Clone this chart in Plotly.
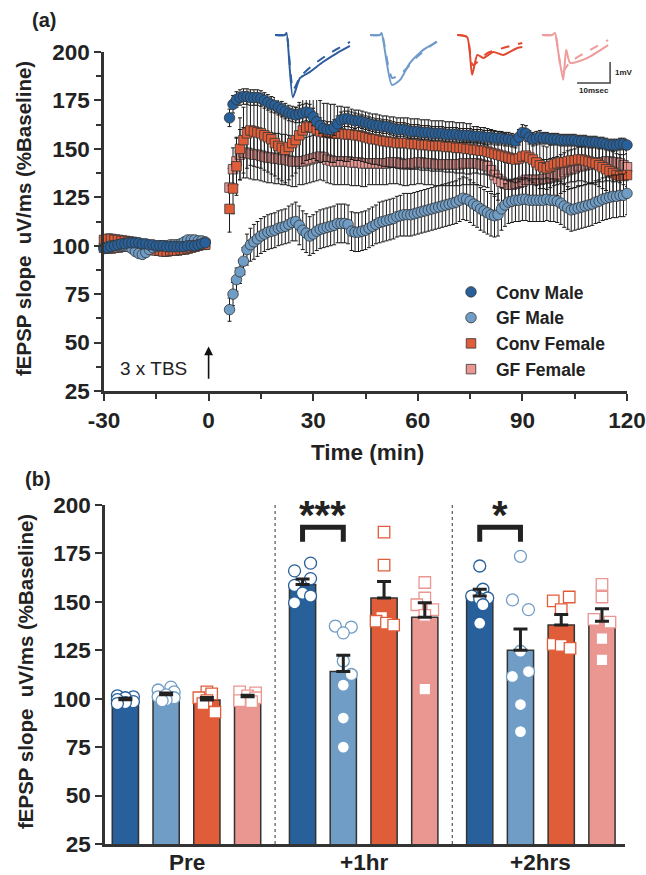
import plotly.graph_objects as go

# ---------------- DATA : panel (a) time course ----------------
baseline_times = list(range(-30, 0))
post_times = list(range(6, 121))
time_ticks = [-30, 0, 30, 60, 90, 120]
time_tick_labels = ["-30", "0", "30", "60", "90", "120"]

conv_male_base = [98.5, 99, 99.5, 100, 100.5, 101, 101, 101.5, 101.5, 101.5,
                  101.5, 101, 101, 100.5, 100.5, 100, 100, 100, 99.5, 99.5,
                  99.5, 99.5, 99.5, 99.5, 100, 100, 100, 100.5, 101, 101.5]
conv_male_post = [166, 173, 175.5, 176.5, 177, 177, 176.5, 176.5, 176.5, 176,
                  175, 174, 173, 172.5, 171.5, 170.5, 169.5, 168.5, 168, 167.5,
                  168, 168.5, 169, 168.5, 166.5, 164, 162, 160.5, 160, 160,
                  161, 163, 165, 165.5, 165.5, 165, 164.5, 164.5, 164, 163.5,
                  163, 162.5, 162, 162, 161.5, 161.5, 161, 160.5, 160, 160,
                  160, 159.5, 159, 159, 159, 158.5, 158.5, 158.5, 158, 158,
                  158, 158, 157.5, 157.5, 157.5, 157.5, 157, 157, 157, 157,
                  156.5, 156.5, 156.5, 156, 156, 156, 155.5, 155.5, 155.5, 155,
                  155, 154.5, 154, 156, 158.5, 158, 156, 155, 155.5, 156,
                  155.5, 155.5, 155, 155, 155, 154.5, 154.5, 154.5, 154.5, 154.5,
                  154, 154, 154, 153.5, 153.5, 153.5, 153, 153, 152.5, 152,
                  152, 152, 152.5, 152.5, 152]
conv_male_base_sem = [1.5, 1.5, 1.5, 1.5, 1.5, 1.5, 1.5, 1.5, 1.5, 1.5,
                      1.5, 1.5, 1.5, 1.5, 1.5, 1.5, 1.5, 1.5, 1.5, 1.5,
                      1.5, 1.5, 1.5, 1.5, 1.5, 1.5, 1.5, 1.5, 1.5, 1.5]
conv_male_post_sem = [4.5, 4.5, 4, 4, 4, 4, 4, 4, 4, 4,
                      4, 4, 4, 4, 4, 4, 4, 4, 4, 4,
                      4.5, 4.5, 4.5, 4.5, 4.5, 4, 4, 4, 4, 4,
                      4, 4, 4, 4, 4, 4, 4, 3.5, 3.5, 3.5,
                      3.5, 3.5, 3.5, 3.5, 3.5, 3.5, 3.5, 3.5, 3.5, 3.5,
                      3.5, 3.5, 3.5, 3.5, 3.5, 3.5, 3.5, 3.5, 3.5, 3.5,
                      3.5, 3.5, 3.5, 3.5, 3.5, 3.5, 3.5, 3.5, 3.5, 3.5,
                      3.5, 3.5, 3.5, 3.5, 3.5, 3.5, 3.5, 3.5, 3.5, 3.5,
                      3.5, 3.5, 3.5, 4, 4, 4, 3.5, 3.5, 3.5, 3.5,
                      3, 3, 3, 3, 3, 3, 3, 3, 3, 3,
                      3, 3, 3, 3, 3, 3, 3, 3, 3, 3,
                      3, 3, 3, 3, 3]

gf_male_base = [99, 99.5, 100, 100, 100.5, 100, 100, 99.5, 98.5, 97,
                96, 95.5, 96.5, 98, 99, 99.5, 100, 100, 100, 100.5,
                100.5, 100.5, 101, 102, 103, 103, 103, 102.5, 102.5, 102]
gf_male_post = [67, 75, 82.5, 86.5, 92, 98, 100.5, 102, 103.5, 105,
                106, 107, 107.5, 108, 109, 109.5, 110, 111, 112, 112.5,
                110.5, 108, 106.5, 105, 106, 107.5, 108.5, 109, 109.5, 110,
                110.5, 111.5, 111.5, 111.5, 111, 107.5, 107, 107, 107.5, 108,
                109, 110, 111, 112, 112.5, 113, 113.5, 114, 115, 115.5,
                116, 116, 116, 116.5, 117, 117.5, 118, 118.5, 119, 119.5,
                120, 120.5, 121, 121.5, 122, 122.5, 123.5, 124.5, 124, 123,
                121.5, 120.5, 119, 118, 117, 116, 115.5, 116, 119, 121,
                122.5, 123, 123.5, 123.5, 124, 124, 123.5, 123.5, 123.5, 123.5,
                123.5, 124, 123.5, 123.5, 123, 122, 120.5, 119.5, 118.5, 119,
                119.5, 120, 120.5, 121, 121.5, 122.5, 123, 124, 124.5, 125,
                125.5, 125.5, 126, 126, 127]
gf_male_base_sem = [2, 2, 2, 2, 2, 2, 2, 2, 2, 2,
                    2, 2, 2, 2, 2, 2, 2, 2, 2, 2,
                    2, 2, 2, 2, 2, 2, 2, 2, 2, 2]
gf_male_post_sem = [6, 6, 6, 6, 7, 8, 8.5, 9, 9, 9,
                    9, 9, 9, 9, 9, 9, 9, 9.5, 9.5, 10,
                    10, 10, 10, 10, 10, 10, 10, 10, 10, 10,
                    10, 10, 10, 10, 10, 10, 10, 10, 10, 10,
                    10, 10, 10, 10.5, 10.5, 10.5, 10.5, 10.5, 10.5, 10.5,
                    11, 11, 11, 11, 11, 11, 11, 11, 11, 11,
                    11, 11, 11, 11, 11, 11, 11, 11, 11, 11,
                    11, 11, 11, 11, 11, 11, 11, 11, 11, 11,
                    11, 11, 11, 11, 11, 11, 11, 11, 11, 11,
                    11, 11, 11, 11, 11, 11, 11, 11, 11, 11,
                    11, 11, 11, 11, 11, 11, 11, 11, 11, 11,
                    11, 11, 11, 11, 11]

conv_female_base = [103, 103.5, 103.5, 103, 103, 102.5, 102.5, 102, 102, 101.5,
                    100.5, 100, 99, 98.5, 98, 97.5, 97.5, 97, 97, 97.5,
                    97.5, 97.5, 98, 98, 98.5, 99, 99.5, 100, 100.5, 100.5]
conv_female_post = [119, 129.5, 141, 150, 154.5, 158, 159.5, 159, 158.5, 158,
                    157, 156, 155, 153, 151.5, 150.5, 149.5, 151, 153, 154.5,
                    157, 159.5, 161, 161.5, 161, 160, 159, 158.5, 158.5, 158,
                    158, 158, 158, 157.5, 157.5, 157.5, 157, 157, 156.5, 156,
                    155.5, 155, 155, 154.5, 154, 154, 153.5, 153.5, 153, 153,
                    153, 153, 152.5, 152.5, 152.5, 152, 152, 152, 151.5, 151.5,
                    151.5, 151.5, 151, 151, 151, 150.5, 150.5, 150.5, 150, 150,
                    149.5, 149.5, 149, 149, 148.5, 148, 147.5, 147, 146.5, 146,
                    145.5, 145, 144.5, 145, 146, 146.5, 145.5, 144.5, 143, 141.5,
                    140.5, 140, 141, 142, 142.5, 143, 143, 143.5, 144, 144,
                    144.5, 144.5, 144, 143.5, 143, 142.5, 141.5, 140.5, 139.5, 138.5,
                    137.5, 136.5, 136, 136, 136.5]
conv_female_base_sem = [2.5, 2.5, 2.5, 2.5, 2.5, 2.5, 2.5, 2.5, 2.5, 2.5,
                        2.5, 2.5, 2.5, 2.5, 2.5, 2.5, 2.5, 2.5, 2.5, 2.5,
                        2.5, 2.5, 2.5, 2.5, 2.5, 2.5, 2.5, 2.5, 2.5, 2.5]
conv_female_post_sem = [12, 13, 15, 16, 17, 18, 18, 18, 18, 18,
                        18, 18, 18, 17, 17, 17, 17, 17, 17, 17,
                        17, 17, 17, 17, 16, 16, 16, 15, 15, 15,
                        15, 14, 14, 14, 14, 13, 13, 13, 13, 13,
                        13, 13, 13, 13, 13, 13, 13, 13, 13, 13,
                        13, 13, 13, 13, 13, 13, 13, 13, 13, 13,
                        13, 13, 13, 13, 13, 13, 13, 13, 13, 13,
                        12, 12, 12, 12, 12, 12, 12, 12, 12, 12,
                        12, 12, 12, 12, 12, 12, 12, 12, 12, 12,
                        11, 11, 11, 11, 11, 11, 11, 11, 11, 11,
                        11, 11, 11, 11, 11, 11, 11, 11, 11, 11,
                        11, 11, 11, 11, 11]

gf_female_base = [99, 98.5, 98.5, 99, 99, 99.5, 99.5, 100, 100, 100,
                  100.5, 100.5, 100, 100, 99.5, 99.5, 99, 99, 99.5, 99.5,
                  100, 100, 100.5, 101, 101.5, 102, 102, 101.5, 101, 101]
gf_female_post = [130, 139.5, 143.5, 147, 148, 148, 147.5, 147, 147, 146.5,
                  146, 145.5, 145.5, 145, 145, 144.5, 144.5, 144, 143.5, 143.5,
                  143.5, 143.5, 144, 144.5, 145, 145.5, 146, 145.5, 144.5, 144,
                  143.5, 143.5, 143.5, 143.5, 143.5, 143, 143, 143, 142.5, 142.5,
                  142.5, 142.5, 142.5, 142.5, 142.5, 142.5, 143, 143, 143, 142.5,
                  142, 142, 142.5, 142.5, 143, 143, 142.5, 142.5, 142.5, 142,
                  142, 142, 142, 142, 142, 142, 142, 142.5, 142.5, 142.5,
                  142.5, 142.5, 142, 141.5, 141, 139, 136.5, 134.5, 133, 132,
                  131.5, 131.5, 132, 132.5, 133, 134, 134, 134, 134, 134,
                  134.5, 134.5, 135, 135.5, 136, 137, 138, 139, 139.5, 140,
                  141, 141, 141.5, 142, 142, 142.5, 143, 143, 143.5, 143.5,
                  143, 143, 142.5, 141.5, 140.5]
gf_female_base_sem = [2, 2, 2, 2, 2, 2, 2, 2, 2, 2,
                      2, 2, 2, 2, 2, 2, 2, 2, 2, 2,
                      2, 2, 2, 2, 2, 2, 2, 2, 2, 2]
gf_female_post_sem = [10, 11, 12, 13, 13, 13, 13, 13, 13, 13,
                      13, 13, 13, 13, 13, 13, 13, 13, 13, 13,
                      12, 12, 12, 12, 12, 12, 12, 12, 12, 12,
                      12, 12, 12, 12, 12, 12, 12, 12, 12, 12,
                      11, 11, 11, 11, 11, 11, 11, 11, 11, 11,
                      11, 11, 11, 11, 11, 11, 11, 11, 11, 11,
                      11, 11, 11, 11, 11, 11, 11, 11, 11, 11,
                      11, 11, 11, 11, 11, 11, 11, 11, 11, 11,
                      11, 11, 11, 11, 11, 11, 11, 11, 11, 11,
                      10, 10, 10, 10, 10, 10, 10, 10, 10, 10,
                      10, 10, 10, 10, 10, 10, 10, 10, 10, 10,
                      10, 10, 10, 10, 10]

# ---------------- DATA : inset example traces (ms, mV) ----------------
trace_offsets_ms = [0, 28.8, 55.2, 80.9]
wave_solid_t = [[0, 3.0, 3.5, 5.4, 7.6, 10.6, 14.5, 18.8, 22.7],
                [0, 3.0, 3.5, 6.6, 9.1, 12.1, 16.1, 20.3],
                [0, 3.0, 4.5, 6.1, 7.9, 10.9, 13.9, 18.2, 19.7],
                [0, 3.0, 3.9, 4.8, 6.4, 7.3, 8.5, 13.6, 20.0]]
wave_solid_v = [[0, 0, 0.1, -2.97, -2.05, -1.76, -1.29, -0.86, -0.52],
                [0, 0, 0.1, -2.38, -2.14, -1.33, -0.71, -0.33],
                [0, -0.1, -1.9, -0.95, -1.1, -0.81, -0.95, -0.62, -0.57],
                [0, 0, 0.1, -0.71, -2.14, -0.71, -1.33, -1.1, -0.48]]
wave_dash_t = [[0, 3.0, 3.5, 5.5, 7.6, 11.5, 16.7, 22.7],
               [0, 3.0, 3.5, 6.7, 10.0, 14.2, 20.3],
               [0, 3.0, 4.7, 9.1, 13.9, 19.7],
               [0, 3.0, 3.9, 6.1, 8.5, 20.0]]
wave_dash_v = [[0, 0, 0.1, -2.62, -2.0, -1.43, -0.86, -0.33],
               [0, 0, 0.1, -2.05, -1.76, -1.05, -0.29],
               [0, -0.1, -1.43, -0.86, -0.62, -0.38],
               [0, 0, 0.1, -1.76, -1.29, -0.24]]
scalebar_ms = 10
scalebar_mv = 1

# ---------------- DATA : panel (b) ----------------
groups = ["Pre", "+1hr", "+2hrs"]
series_names = ["Conv Male", "GF Male", "Conv Female", "GF Female"]
bar_means = [[99.5, 159, 153], [102, 114, 125], [99.3, 152, 138], [101, 142, 140]]
bar_sems = [[0.7, 2.8, 3.5], [1.0, 8.5, 11], [1.3, 8.5, 5.5], [0.8, 7.5, 6.5]]
pts_conv_male = [[101.5, 101, 100.5, 99.5, 98.5, 98, 97.5],
                 [170, 166, 162, 158.5, 154.5, 153, 149.5],
                 [168.5, 156.5, 153, 152, 151.5, 148.5, 139]]
pts_gf_male = [[106, 104.5, 103.5, 102, 101, 100.5, 99.5, 99],
               [137.5, 137, 134, 119.5, 112.5, 107, 90, 75],
               [173.5, 151, 146, 124.5, 114, 111.5, 97, 83]]
pts_conv_female = [[103.5, 102.5, 100.5, 99, 97.5, 93],
                   [186, 169, 142, 140, 139, 138],
                   [152.5, 150.5, 146, 128, 127.5, 126]]
pts_gf_female = [[103.5, 103, 101.5, 100.5, 99, 98.5],
                 [160, 152, 148.5, 146, 143, 105],
                 [159, 152.5, 141, 139.5, 131, 120]]
sig_labels = ["***", "*"]

# ---------------- STYLE ----------------
W, H = 646, 875
C_CM, C_GM, C_CF, C_GF = "#27609A", "#709DC6", "#E05D3A", "#EA9691"
colors = [C_CM, C_GM, C_CF, C_GF]
wave_colors = ["#2E5C9E", "#6F9BCB", "#E2492F", "#EF9C9A"]
INK = "#222222"
AX = "#333333"
FONT = "Liberation Sans, Arial, sans-serif"

def px_x(p):
    return p / W

def px_y(p):
    return 1 - p / H

fig = go.Figure()

# ---------- panel (a) series ----------
series_a = [
    ("GF Female", gf_female_base + gf_female_post, gf_female_base_sem + gf_female_post_sem, C_GF, "square", 9.5, 4),
    ("Conv Female", conv_female_base + conv_female_post, conv_female_base_sem + conv_female_post_sem, C_CF, "square", 9.5, 3),
    ("GF Male", gf_male_base + gf_male_post, gf_male_base_sem + gf_male_post_sem, C_GM, "circle", 10.5, 2),
    ("Conv Male", conv_male_base + conv_male_post, conv_male_base_sem + conv_male_post_sem, C_CM, "circle", 10.5, 1),
]
times = baseline_times + post_times
for name, vals, sems, col, sym, size, rank in series_a:
    fig.add_trace(go.Scatter(
        x=times, y=vals, mode="markers", name=name, legendrank=rank,
        xaxis="x", yaxis="y", cliponaxis=False,
        marker=dict(symbol=sym, size=size, color=col, line=dict(color="#333333", width=0.8)),
        error_y=dict(type="data", array=sems, visible=True, color="#1a1a1a", thickness=1, width=2),
    ))

# inset example traces
for i in range(4):
    off = trace_offsets_ms[i]
    fig.add_trace(go.Scatter(
        x=[t + off for t in wave_dash_t[i]], y=wave_dash_v[i], mode="lines",
        line=dict(color=wave_colors[i], width=2, dash="dash", shape="spline", smoothing=0.6),
        xaxis="x3", yaxis="y3", showlegend=False, hoverinfo="skip"))
    fig.add_trace(go.Scatter(
        x=[t + off for t in wave_solid_t[i]], y=wave_solid_v[i], mode="lines",
        line=dict(color=wave_colors[i], width=2, shape="spline", smoothing=0.6),
        xaxis="x3", yaxis="y3", showlegend=False, hoverinfo="skip"))

sb_x0, sb_y0 = 91.5, -2.29
fig.add_trace(go.Scatter(
    x=[sb_x0, sb_x0 + scalebar_ms, sb_x0 + scalebar_ms],
    y=[sb_y0, sb_y0, sb_y0 + scalebar_mv],
    mode="lines", line=dict(color="#444444", width=1.5),
    xaxis="x3", yaxis="y3", showlegend=False, hoverinfo="skip"))

# ---------- panel (b) ----------
slot = 0.230
bar_w = 0.148
offsets = [(k - 1.5) * slot for k in range(4)]
jit_unit = 8 / 177.2
jitter = [
    [[-1, 1, 0, -1, 1, 0, -1], [1, -1, 1, -1, 0, 1, -1], [0, 0.4, -1, 1, 0, 0.4, 0]],
    [[0.6, -1, 1, 0, -1, 1, 0, -0.5], [-1, 1, 0, 0, 1, 0, 0, 0], [0, -1, 1, 0, 1, -1, 0, 0]],
    [[0, 0.6, -1, 0, -0.5, 1], [0, 0, -0.3, -1, 0.3, 1.2], [1, -1, 0, -1, 0, 1.1]],
    [[-1, 1, 0, 1, -1, 0.5], [0, 0, -1, 1, 0, 0], [0, 0, -1, 1, 0, 0]],
]
pts_all = [pts_conv_male, pts_gf_male, pts_conv_female, pts_gf_female]
pt_symbols = ["circle", "circle", "square", "square"]

for k in range(4):
    fig.add_trace(go.Bar(
        x=[g + offsets[k] for g in range(3)], y=bar_means[k], width=bar_w,
        base=0, marker=dict(color=colors[k], line=dict(color=AX, width=1.5)),
        xaxis="x2", yaxis="y2", showlegend=False, hoverinfo="skip"))

for k in range(4):
    xs, ys = [], []
    for g in range(3):
        for j, v in enumerate(pts_all[k][g]):
            xs.append(g + offsets[k] + jitter[k][g][j] * jit_unit)
            ys.append(v)
    fig.add_trace(go.Scatter(
        x=xs, y=ys, mode="markers", xaxis="x2", yaxis="y2", showlegend=False,
        cliponaxis=False, hoverinfo="skip",
        marker=dict(symbol=pt_symbols[k], size=12 if k < 2 else 11.5, color="white",
                    line=dict(color=colors[k], width=1.3))))

for k in range(4):
    fig.add_trace(go.Scatter(
        x=[g + offsets[k] for g in range(3)], y=bar_means[k], mode="markers",
        marker=dict(color="rgba(0,0,0,0)", size=1),
        error_y=dict(type="data", symmetric=False, array=bar_sems[k], arrayminus=[0, 0, 0],
                     color=INK, thickness=3, width=7),
        xaxis="x2", yaxis="y2", showlegend=False, hoverinfo="skip", cliponaxis=False))

shapes = []
for xd in [0.5, 1.5]:
    shapes.append(dict(type="line", xref="x2", yref="y2", x0=xd, x1=xd, y0=25, y1=200,
                       line=dict(color=AX, width=1, dash="dot")))
annotations = []
for gi, lab in zip([1, 2], sig_labels):
    xa = gi + offsets[0]
    xb = gi + offsets[1]
    y_leg, y_top = 181, 188.5
    shapes.append(dict(type="path", xref="x2", yref="y2",
                       path=f"M {xa} {y_leg} L {xa} {y_top} L {xb} {y_top} L {xb} {y_leg}",
                       line=dict(color=INK, width=5)))
    annotations.append(dict(xref="x2", yref="y2", x=(xa + xb) / 2, y=182.5, text=lab,
                            showarrow=False, yanchor="bottom",
                            font=dict(family=FONT, size=40, color=INK, weight="bold")))

# group labels under panel (b)
for gi, lab in enumerate(groups):
    annotations.append(dict(xref="x2", yref="paper", x=gi, y=px_y(862), text=lab,
                            showarrow=False, xanchor="center", yanchor="middle",
                            font=dict(family=FONT, size=22.5, color=INK, weight="bold")))

annotations.append(dict(xref="x", yref="y", x=0, y=48, ax=0, ay=30.5, axref="x", ayref="y",
                        text="", showarrow=True, arrowhead=2, arrowsize=1.1, arrowwidth=1.6,
                        arrowcolor="#111111"))
annotations.append(dict(xref="paper", yref="paper", x=px_x(153), y=px_y(368), text="3 x TBS",
                        showarrow=False, xanchor="center", yanchor="middle",
                        font=dict(family=FONT, size=19, color=INK)))
annotations.append(dict(xref="x3", yref="y3", x=sb_x0 + scalebar_ms + 1, y=sb_y0 + scalebar_mv / 2,
                        text="1mV", showarrow=False, xanchor="left",
                        font=dict(family=FONT, size=8, color=INK, weight="bold")))
annotations.append(dict(xref="x3", yref="y3", x=sb_x0 + scalebar_ms / 2, y=sb_y0 - 0.38,
                        text="10msec", showarrow=False,
                        font=dict(family=FONT, size=8, color=INK, weight="bold")))
annotations.append(dict(xref="paper", yref="paper", x=px_x(30), y=px_y(20), text="(a)",
                        showarrow=False, xanchor="left", yanchor="middle",
                        font=dict(family=FONT, size=20, color=INK, weight="bold")))
annotations.append(dict(xref="paper", yref="paper", x=px_x(23), y=px_y(479), text="(b)",
                        showarrow=False, xanchor="left", yanchor="middle",
                        font=dict(family=FONT, size=20, color=INK, weight="bold")))
ytitle = "fEPSP slope\u00a0 uV/ms (%Baseline)"
annotations.append(dict(xref="paper", yref="paper", x=px_x(24), y=px_y(219), text=ytitle,
                        textangle=-90, showarrow=False, xanchor="center", yanchor="middle",
                        font=dict(family=FONT, size=20.5, color=INK, weight="bold")))
annotations.append(dict(xref="paper", yref="paper", x=px_x(25), y=px_y(672), text=ytitle,
                        textangle=-90, showarrow=False, xanchor="center", yanchor="middle",
                        font=dict(family=FONT, size=20.5, color=INK, weight="bold")))
annotations.append(dict(xref="paper", yref="paper", x=px_x(367), y=px_y(452), text="Time (min)",
                        showarrow=False, xanchor="center", yanchor="middle",
                        font=dict(family=FONT, size=22.5, color=INK, weight="bold")))

tickfont = dict(family=FONT, size=22.5, color=INK, weight="bold")
yticks = [25, 50, 75, 100, 125, 150, 175, 200]
common_ax = dict(showgrid=False, zeroline=False, automargin=False, showline=True,
                 linecolor=AX, linewidth=2.5)

fig.update_layout(
    template="none",
    width=W, height=H, margin=dict(l=0, r=0, t=0, b=0, pad=0), autosize=False,
    paper_bgcolor="white", plot_bgcolor="white", barmode="overlay",
    showlegend=True,
    legend=dict(x=px_x(446), y=px_y(274), xanchor="left", yanchor="top",
                font=dict(family=FONT, size=17.5, color=INK, weight="bold"),
                bgcolor="rgba(0,0,0,0)", itemwidth=40, tracegroupgap=0),
    xaxis=dict(domain=[px_x(104), px_x(627)], range=[-30, 120], anchor="y",
               tickvals=time_ticks, ticktext=time_tick_labels, ticks="outside", ticklen=7,
               tickwidth=2, tickcolor=AX, tickfont=tickfont,
               minor=dict(tickvals=[-15, 15, 45, 75, 105], ticks="outside", ticklen=5,
                          tickwidth=1.5, tickcolor=AX), **common_ax),
    yaxis=dict(domain=[px_y(391), px_y(52)], range=[25, 200], anchor="x",
               tickvals=yticks, ticks="outside", ticklen=7, tickwidth=2, tickcolor=AX,
               tickfont=tickfont,
               minor=dict(tickvals=[37.5, 62.5, 87.5, 112.5, 137.5, 162.5, 187.5],
                          ticks="outside", ticklen=5, tickwidth=1.5, tickcolor=AX), **common_ax),
    xaxis2=dict(domain=[px_x(105), px_x(625)], range=[-0.46, 2.475], anchor="y2",
                tickvals=[0, 1, 2], ticks="", showticklabels=False, **common_ax),
    yaxis2=dict(domain=[px_y(844), px_y(505)], range=[25, 200], anchor="x2",
                tickvals=yticks, ticks="outside", ticklen=7, tickwidth=2, tickcolor=AX,
                tickfont=tickfont, **common_ax),
    xaxis3=dict(domain=[px_x(275), px_x(620)], range=[0, 104.5], anchor="y3", visible=False,
                automargin=False),
    yaxis3=dict(domain=[px_y(100), px_y(28)], range=[-3.1, 0.333], anchor="x3", visible=False,
                automargin=False),
    shapes=shapes, annotations=annotations,
)

fig.write_html("out.html", config={"displayModeBar": False},
               post_script="document.body.style.margin='0px';document.body.style.padding='0px';")
